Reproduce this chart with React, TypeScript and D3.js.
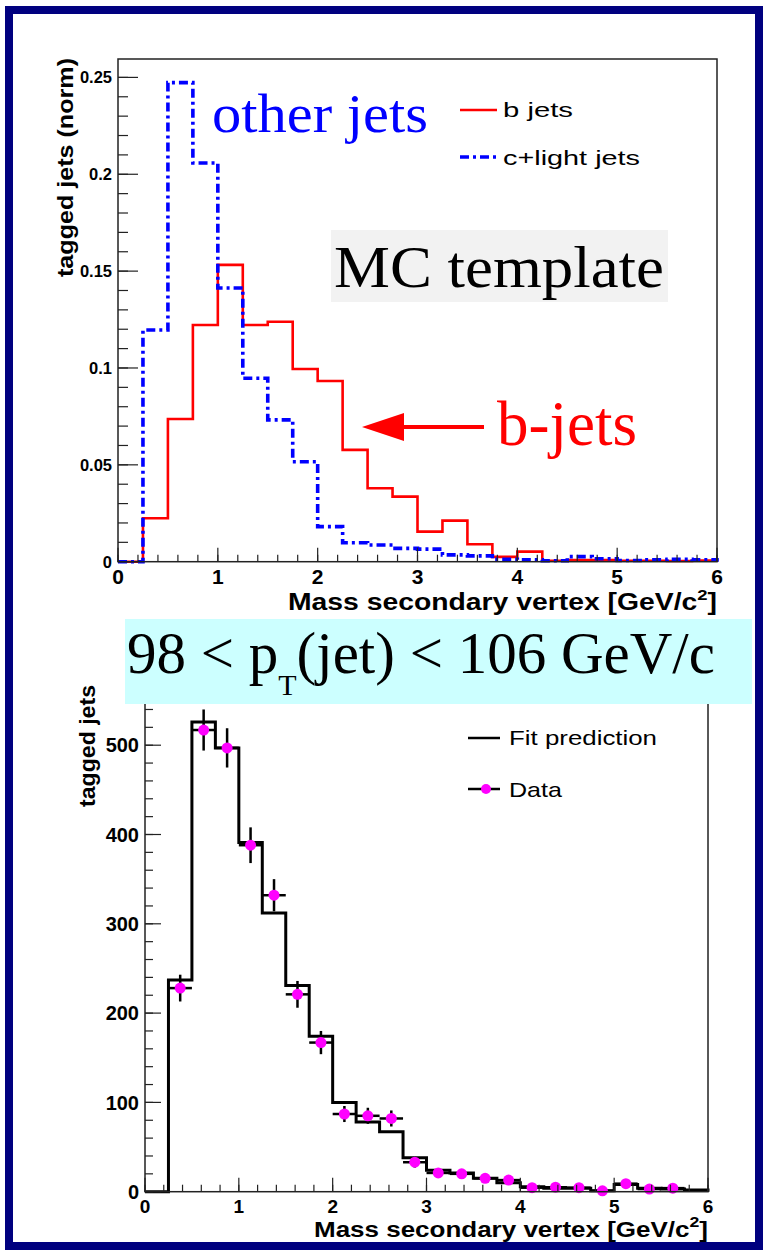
import React, { useEffect, useRef } from 'react';
import * as d3 from 'd3';

// bin low edges, 0.25 wide, 0..6
const binLow = [0, 0.25, 0.5, 0.75, 1, 1.25, 1.5, 1.75, 2, 2.25, 2.5, 2.75,
  3, 3.25, 3.5, 3.75, 4, 4.25, 4.5, 4.75, 5, 5.25, 5.5, 5.75];

// MC template (normalised)
const bJets = [0, 0.0224, 0.0737, 0.1222, 0.1532, 0.1222, 0.1239, 0.0995, 0.0933, 0.0577, 0.0379, 0.0336,
  0.0155, 0.0212, 0.009, 0.0025, 0.0052, 0.0005, 0.0008, 0.0008, 0.0005, 0.0005, 0.0004, 0.0006];
const otherJets = [0, 0.1196, 0.2473, 0.2058, 0.1413, 0.0947, 0.0732, 0.0516, 0.0181, 0.0098, 0.0086, 0.0069,
  0.0065, 0.0035, 0.003, 0.0012, 0.001, 0.0005, 0.0026, 0.0015, 0.0006, 0.001, 0.0012, 0.001];

// fit to data, 98 < pT < 106
const fitPred = [0, 237, 526, 497, 391, 312, 231, 174, 100, 78, 67, 38,
  24, 21, 15, 10, 5.6, 4, 4, 1, 8, 4, 3, 2];
const dataVal = [null, 228, 517, 497, 388, 332, 221, 167, 87, 85, 82, 33,
  21, 20, 15, 13, 4.5, 5, 4.5, 1, 9, 3, 4, null];
const dataErr = [0, 15, 23, 22, 20, 18, 15, 13, 9, 9, 9, 6,
  5, 4, 4, 4, 2, 2, 2, 1, 3, 2, 2, 0];

const xTicks = [0, 1, 2, 3, 4, 5, 6];
const topYTicks = [0, 0.05, 0.1, 0.15, 0.2, 0.25];
const topYLabels = ['0', '0.05', '0.1', '0.15', '0.2', '0.25'];
const botYTicks = [0, 100, 200, 300, 400, 500];

const SANS = '"Liberation Sans", Arial, sans-serif';
const SERIF = '"Liberation Serif", "Times New Roman", serif';

const App = () => {
  const ref = useRef<SVGSVGElement>(null);

  useEffect(() => {
    const svg = d3.select(ref.current);
    svg.selectAll('*').remove();

    const stretch = (sel: any, len: number) =>
      sel.attr('textLength', len).attr('lengthAdjust', 'spacingAndGlyphs');

    const histPath = (g: any, x: any, y: any, vals: number[], color: string, w: number, dash: string | null) => {
      const pts: [number, number][] = [[0, 0]];
      vals.forEach((v, i) => pts.push([binLow[i], v]));
      pts.push([6, vals[vals.length - 1]]);
      pts.push([6, 0]);
      const line = d3.line<[number, number]>()
        .x(d => x(d[0]))
        .y(d => y(d[1]))
        .curve(d3.curveStepAfter);
      g.append('path')
        .attr('d', line(pts))
        .attr('fill', 'none')
        .attr('stroke', color)
        .attr('stroke-width', w)
        .attr('stroke-dasharray', dash);
    };

    const axes = (g: any, x: any, y: any, o: any) => {
      const [x0, x1] = x.range();
      const [yb, yt] = y.range();
      // frame
      g.append('rect')
        .attr('x', x0).attr('y', yt)
        .attr('width', x1 - x0).attr('height', yb - yt)
        .attr('fill', 'none').attr('stroke', '#222').attr('stroke-width', 1.5);
      // x ticks
      g.selectAll('.xmin').data(d3.range(0, 6.001, 0.2)).enter().append('line')
        .attr('x1', (d: number) => x(d)).attr('x2', (d: number) => x(d))
        .attr('y1', yb).attr('y2', yb - 7)
        .attr('stroke', '#222').attr('stroke-width', 1.2);
      g.selectAll('.xmaj').data(xTicks).enter().append('line')
        .attr('x1', (d: number) => x(d)).attr('x2', (d: number) => x(d))
        .attr('y1', yb).attr('y2', yb - 14)
        .attr('stroke', '#222').attr('stroke-width', 1.2);
      g.selectAll('.xlab').data(xTicks).enter().append('text')
        .attr('x', (d: number) => x(d)).attr('y', o.xLabY)
        .attr('text-anchor', 'middle')
        .style('font-family', SANS).style('font-weight', 'bold').style('font-size', `${o.xLabSize}px`)
        .text((d: number) => d);
      // y ticks
      g.selectAll('.ymin').data(o.yMinor).enter().append('line')
        .attr('x1', x0).attr('x2', x0 + o.yMinLen)
        .attr('y1', (d: number) => y(d)).attr('y2', (d: number) => y(d))
        .attr('stroke', '#222').attr('stroke-width', 1.2);
      g.selectAll('.ymaj').data(o.yTicks).enter().append('line')
        .attr('x1', x0).attr('x2', x0 + o.yMajLen)
        .attr('y1', (d: number) => y(d)).attr('y2', (d: number) => y(d))
        .attr('stroke', '#222').attr('stroke-width', 1.2);
      g.selectAll('.ylab').data(o.yTicks).enter().append('text')
        .attr('x', o.yLabX).attr('y', (d: number) => y(d) + o.yLabSize * 0.36)
        .attr('text-anchor', 'end')
        .style('font-family', SANS).style('font-weight', 'bold').style('font-size', `${o.yLabSize}px`)
        .text((d: number, i: number) => o.yLabels[i]);
    };

    const xTitle = (g: any, x: number, y: number, len: number, size: number) => {
      const t = g.append('text')
        .attr('x', x).attr('y', y)
        .style('font-family', SANS).style('font-weight', 'bold').style('font-size', `${size}px`);
      t.append('tspan').text('Mass secondary vertex [GeV/c');
      t.append('tspan').attr('dy', -10).style('font-size', '15px').text('2');
      t.append('tspan').attr('dy', 10).text(']');
      stretch(t, len);
    };

    const yTitle = (g: any, x: number, y: number, txt: string, len: number) => {
      const t = g.append('text')
        .attr('transform', `translate(${x},${y}) rotate(-90)`)
        .attr('text-anchor', 'end')
        .style('font-family', SANS).style('font-weight', 'bold').style('font-size', '22px')
        .text(txt);
      stretch(t, len);
    };

    svg.append('rect').attr('width', 766).attr('height', 1250).attr('fill', '#fff');

    // ---------- top pad: MC template ----------
    const xTop = d3.scaleLinear().domain([0, 6]).range([118, 717]);
    const yTop = d3.scaleLinear().domain([0, 0.2595]).range([561.7, 59]);
    const top = svg.append('g');

    histPath(top, xTop, yTop, bJets, '#ff0000', 2.6, null);
    histPath(top, xTop, yTop, otherJets, '#0000ff', 3.6, '9,4,3,4');

    axes(top, xTop, yTop, {
      xLabY: 584, xLabSize: 21,
      yTicks: topYTicks, yLabels: topYLabels, yMinor: d3.range(0, 0.2501, 0.01),
      yMajLen: 20, yMinLen: 10, yLabX: 112, yLabSize: 16.5,
    });
    xTitle(top, 288, 610, 429, 23);
    yTitle(top, 73, 58, 'tagged jets (norm)', 219);

    // legend
    top.append('line').attr('x1', 460).attr('x2', 497).attr('y1', 110).attr('y2', 110)
      .attr('stroke', '#ff0000').attr('stroke-width', 2.6);
    top.append('line').attr('x1', 460).attr('x2', 497).attr('y1', 157).attr('y2', 157)
      .attr('stroke', '#0000ff').attr('stroke-width', 3.6).attr('stroke-dasharray', '9,4,3,4');
    stretch(top.append('text').attr('x', 503).attr('y', 117)
      .style('font-family', SANS).style('font-size', '20px').text('b jets'), 70);
    stretch(top.append('text').attr('x', 503).attr('y', 165)
      .style('font-family', SANS).style('font-size', '20px').text('c+light jets'), 137);

    // annotations
    stretch(top.append('text').attr('x', 212).attr('y', 132)
      .style('font-family', SERIF).style('font-size', '55px').attr('fill', '#0000ff').text('other jets'), 216);
    top.append('rect').attr('x', 331).attr('y', 230).attr('width', 337).attr('height', 72).attr('fill', '#f2f2f2');
    stretch(top.append('text').attr('x', 334).attr('y', 287)
      .style('font-family', SERIF).style('font-size', '60px').attr('fill', '#000').text('MC template'), 330);
    top.append('line').attr('x1', 400).attr('x2', 484).attr('y1', 427).attr('y2', 427)
      .attr('stroke', '#ff0000').attr('stroke-width', 4);
    top.append('path').attr('d', 'M362,427 L404,413 L404,441 Z').attr('fill', '#ff0000');
    stretch(top.append('text').attr('x', 497).attr('y', 445)
      .style('font-family', SERIF).style('font-size', '63px').attr('fill', '#ff0000').text('b-jets'), 140);

    // ---------- bottom pad: fit to data ----------
    const xBot = d3.scaleLinear().domain([0, 6]).range([145, 708]);
    const yBot = d3.scaleLinear().domain([0, 550]).range([1191.7, 1191.7 - 550 * 0.893]);
    const bot = svg.append('g');

    histPath(bot, xBot, yBot, fitPred, '#000', 3, null);

    const pts = binLow.map((b, i) => ({ c: b + 0.125, v: dataVal[i], e: dataErr[i] })).filter(d => d.v !== null);
    bot.selectAll('.ex').data(pts).enter().append('line')
      .attr('x1', d => xBot(d.c - 0.125)).attr('x2', d => xBot(d.c + 0.125))
      .attr('y1', d => yBot(d.v as number)).attr('y2', d => yBot(d.v as number))
      .attr('stroke', '#000').attr('stroke-width', 2.5);
    bot.selectAll('.ey').data(pts).enter().append('line')
      .attr('x1', d => xBot(d.c)).attr('x2', d => xBot(d.c))
      .attr('y1', d => yBot((d.v as number) - d.e)).attr('y2', d => yBot((d.v as number) + d.e))
      .attr('stroke', '#000').attr('stroke-width', 2.5);
    bot.selectAll('.pt').data(pts).enter().append('circle')
      .attr('cx', d => xBot(d.c)).attr('cy', d => yBot(d.v as number)).attr('r', 5.5)
      .attr('fill', '#ff00ff');

    axes(bot, xBot, yBot, {
      xLabY: 1213, xLabSize: 19,
      yTicks: botYTicks, yLabels: botYTicks.map(String), yMinor: d3.range(0, 541, 20),
      yMajLen: 16, yMinLen: 8, yLabX: 139, yLabSize: 20,
    });
    xTitle(bot, 314, 1237, 394, 22);
    yTitle(bot, 95, 685, 'tagged jets', 122);

    // legend
    bot.append('line').attr('x1', 468).attr('x2', 500).attr('y1', 738).attr('y2', 738)
      .attr('stroke', '#000').attr('stroke-width', 2.5);
    bot.append('line').attr('x1', 468).attr('x2', 500).attr('y1', 789).attr('y2', 789)
      .attr('stroke', '#000').attr('stroke-width', 2.5);
    bot.append('circle').attr('cx', 486).attr('cy', 789).attr('r', 5).attr('fill', '#ff00ff');
    stretch(bot.append('text').attr('x', 509).attr('y', 745)
      .style('font-family', SANS).style('font-size', '21px').text('Fit prediction'), 148);
    stretch(bot.append('text').attr('x', 509).attr('y', 797)
      .style('font-family', SANS).style('font-size', '21px').text('Data'), 53);

    // pT range banner
    svg.append('rect').attr('x', 125).attr('y', 619).attr('width', 627).attr('height', 85).attr('fill', '#ccffff');
    const pt = svg.append('text').attr('x', 127).attr('y', 673)
      .style('font-family', SERIF).style('font-size', '59px').attr('fill', '#000');
    pt.append('tspan').text('98 < p');
    pt.append('tspan').attr('dy', 22).style('font-size', '30px').text('T');
    pt.append('tspan').attr('dy', -22).text('(jet) < 106 GeV/c');

    // outer frame
    svg.append('rect').attr('x', 9).attr('y', 10).attr('width', 750).attr('height', 1236)
      .attr('fill', 'none').attr('stroke', '#00007f').attr('stroke-width', 8);
  }, []);

  return (
    <svg ref={ref} width={766} height={1250}
      style={{ position: 'absolute', left: 0, top: 0, display: 'block' }} />
  );
};

export default App;
